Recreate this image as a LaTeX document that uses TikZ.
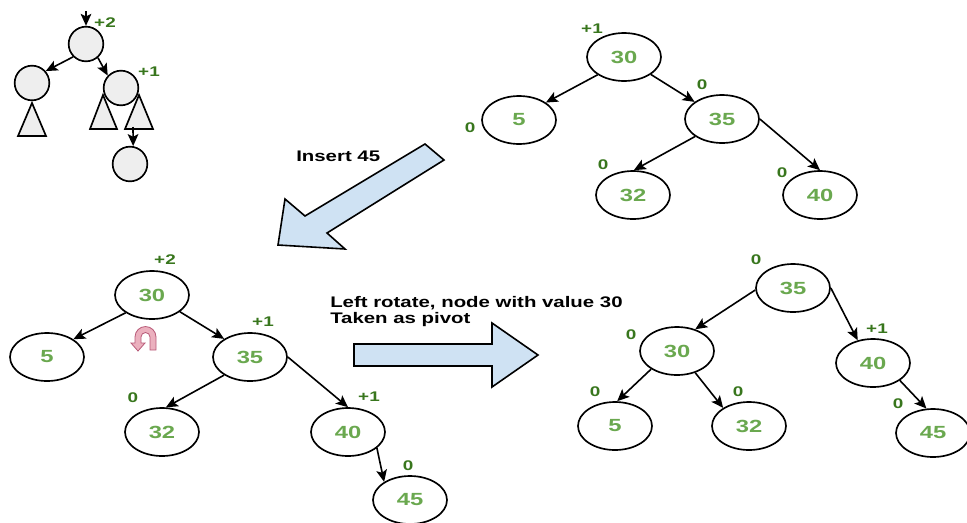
\documentclass[tikz,border=0pt]{standalone}
\usepackage{fontspec}
\setmainfont{Liberation Sans}
\usepackage{graphicx}
\usetikzlibrary{shapes.geometric,arrows.meta}
\definecolor{numgreen}{HTML}{6AA84F}
\definecolor{bfgreen}{HTML}{38761D}
\definecolor{arrowblue}{HTML}{CFE2F3}
\definecolor{nodegray}{HTML}{EEEEEE}
\definecolor{pinkfill}{HTML}{EBB0BE}
\definecolor{pinkline}{HTML}{B85A78}
\newcommand{\widtxt}[2]{\scalebox{#1}[1]{#2}}
\newcommand{\nodenum}[1]{\widtxt{1.35}{#1}}
\newcommand{\bfl}[1]{\widtxt{1.35}{#1}}
\newcommand{\captxt}[1]{\widtxt{1.33}{#1}}
\begin{document}
\begin{tikzpicture}[x=0.75pt,y=-0.75pt,
 avl/.style={ellipse,draw,line width=1.25pt,minimum width=55.5pt,minimum height=36pt,inner sep=0pt,
   font=\fontsize{13.2}{15}\selectfont\bfseries,text=numgreen},
 bf/.style={font=\fontsize{10.5}{12}\selectfont\bfseries,text=bfgreen,inner sep=0pt},
 edge/.style={line width=1.2pt,-{Stealth[length=9pt,width=8pt,inset=2pt]}},
 ball/.style={circle,draw,fill=nodegray,line width=1.25pt,minimum size=26pt,inner sep=0pt},
 tri/.style={draw,fill=nodegray,line width=1.25pt,line join=miter},
 block/.style={draw,fill=arrowblue,line width=1.2pt,line join=miter},
 caption/.style={font=\fontsize{11.5}{13}\selectfont\bfseries,inner sep=0pt,anchor=base west}
]
\useasboundingbox (0,0) rectangle (967,522);

% ---------- inset tree ----------
\draw[tri] (32,103) -- (18,136) -- (46,136) -- cycle;
\draw[tri] (103,95) -- (90,129) -- (117,129) -- cycle;
\draw[tri] (139,95) -- (125,129) -- (153,129) -- cycle;
\node[ball] (ir) at (86,44) {};
\node[ball] (il) at (32,83) {};
\node[ball] (irr) at (121,88) {};
\node[ball] (ib) at (130,164) {};
\coordinate (itop) at (86,11);
\coordinate (itri) at (133,127);
\draw[edge] (itop) -- (ir.north);
\draw[edge] (ir.225) -- (il.41);
\draw[edge] (ir.311) -- (irr.137);
\draw[edge] (itri) -- (ib.80);
\node[bf] (ibf1) at (105,23) {\bfl{+2}};
\node[bf] (ibf2) at (149,72) {\bfl{+1}};

% ---------- top right tree ----------
\node[avl] (a30) at (624,57) {\nodenum{30}};
\node[avl] (a5) at (519,120) {\nodenum{5}};
\node[avl] (a35) at (722,119) {\nodenum{35}};
\node[avl] (a32) at (633,195) {\nodenum{32}};
\node[avl] (a40) at (820,195) {\nodenum{40}};
\draw[edge] (a30.214) -- (a5.33);
\draw[edge] (a30.327) -- (a35.148);
\draw[edge] (a35.213) -- (a32.88);
\draw[edge] (a35.east) -- (a40.north);
\node[bf] (abf30) at (592,29) {\bfl{+1}};
\node[bf] (abf5) at (470,128) {\bfl{0}};
\node[bf] (abf35) at (702,85) {\bfl{0}};
\node[bf] (abf32) at (603,165) {\bfl{0}};
\node[bf] (abf40) at (782,173) {\bfl{0}};

% ---------- insert arrow ----------
\draw[block] (425,144) -- (444,160) -- (327,233) -- (345,249) -- (278,245) -- (285,199) -- (305,216) -- cycle;
\node[caption] (ins) at (296,161) {\captxt{Insert 45}};

% ---------- bottom left tree ----------
\node[avl] (b30) at (152,295) {\nodenum{30}};
\node[avl] (b5) at (47,357) {\nodenum{5}};
\node[avl] (b35) at (250,357) {\nodenum{35}};
\node[avl] (b32) at (162,432) {\nodenum{32}};
\node[avl] (b40) at (348,432) {\nodenum{40}};
\node[avl] (b45) at (410,500) {\nodenum{45}};
\draw[edge] (b30.214) -- (b5.34);
\draw[edge] (b30.329) -- (b35.145);
\draw[edge] (b35.215) -- (b32.81);
\draw[edge] (b35.east) -- (b40.north);
\draw[edge] (b40.331) -- (b45.145);
\node[bf] (bbf30) at (165,260) {\bfl{+2}};
\node[bf] (bbf35) at (263,322) {\bfl{+1}};
\node[bf] (bbf32) at (133,398) {\bfl{0}};
\node[bf] (bbf40) at (369,397) {\bfl{+1}};
\node[bf] (bbf45) at (408,466) {\bfl{0}};

% rotation symbol
\draw[fill=pinkfill,draw=pinkline,line width=0.6pt]
  (156,350) -- (156,337) arc[start angle=0,end angle=-180,radius=10.5]
  -- (135,343) -- (131,343) -- (138,351) -- (145,343) -- (141,343)
  -- (141,337) arc[start angle=-180,end angle=0,radius=4.5] -- (150,350) -- cycle;

% ---------- rotate arrow ----------
\draw[block] (354,344) -- (492,344) -- (492,323) -- (538,355) -- (492,387) -- (492,366) -- (354,366) -- cycle;
\node[caption] (rot1) at (330,307) {\captxt{Left rotate, node with value 30}};
\node[caption] (rot2) at (330,323) {\captxt{Taken as pivot}};

% ---------- bottom right tree ----------
\node[avl] (c35) at (793,288) {\nodenum{35}};
\node[avl] (c30) at (677,351) {\nodenum{30}};
\node[avl] (c40) at (873,363) {\nodenum{40}};
\node[avl] (c5) at (615,426) {\nodenum{5}};
\node[avl] (c32) at (749,426) {\nodenum{32}};
\node[avl] (c45) at (933,433) {\nodenum{45}};
\draw[edge] (c35.183) -- (c30.50);
\draw[edge] (c35.east) -- (c40.124);
\draw[edge] (c30.215) -- (c5.85);
\draw[edge] (c30.310) -- (c32.145);
\draw[edge] (c40.327) -- (c45.105);
\node[bf] (cbf35) at (756,260) {\bfl{0}};
\node[bf] (cbf30) at (631,335) {\bfl{0}};
\node[bf] (cbf40) at (877,329) {\bfl{+1}};
\node[bf] (cbf5) at (595,392) {\bfl{0}};
\node[bf] (cbf32) at (738,392) {\bfl{0}};
\node[bf] (cbf45) at (898,404) {\bfl{0}};
\end{tikzpicture}
\end{document}
